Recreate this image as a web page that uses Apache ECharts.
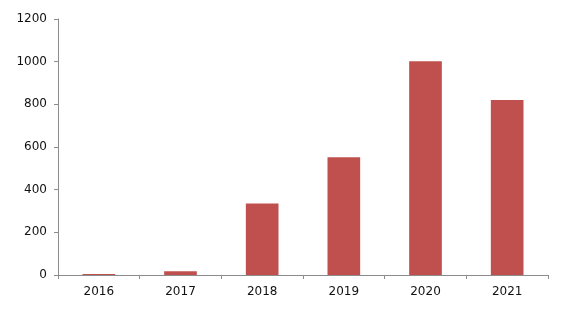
<!DOCTYPE html>
<html>
<head>
<meta charset="utf-8">
<script src="https://cdn.jsdelivr.net/npm/echarts@6/dist/echarts.min.js"></script>
<style>
  html, body { margin: 0; padding: 0; background: #fff; }
  #chart { width: 580px; height: 313px; }
</style>
</head>
<body>
<div id="chart"></div>
<script>
const years = ['2016', '2017', '2018', '2019', '2020', '2021']
const values = [5, 18, 335, 552, 1002, 820]
const yTicks = [0, 200, 400, 600, 800, 1000, 1200]

const chart = echarts.init(document.getElementById('chart'))
chart.setOption({
  animation: false,
  grid: { left: 58, right: 32, top: 19, bottom: 38 },
  xAxis: {
    type: 'category',
    data: years,
    axisLine: { lineStyle: { color: '#8c8c8c' } },
    axisTick: { show: true, length: 4, lineStyle: { color: '#8c8c8c' } },
    axisLabel: { color: '#111', fontFamily: 'DejaVu Sans', fontSize: 12, margin: 11 }
  },
  yAxis: {
    type: 'value',
    min: yTicks[0],
    max: yTicks[yTicks.length - 1],
    interval: 200,
    axisLine: { show: true, lineStyle: { color: '#8c8c8c' } },
    axisTick: { show: true, length: 4, lineStyle: { color: '#8c8c8c' } },
    splitLine: { show: false },
    axisLabel: {
      color: '#111', fontFamily: 'DejaVu Sans', fontSize: 12, margin: 11,
      formatter: v => String(v)  // 不要千分位
    }
  },
  series: [{
    type: 'bar',
    data: values,
    barWidth: '40%',
    itemStyle: { color: '#c0504d' }
  }]
})
</script>
</body>
</html>
